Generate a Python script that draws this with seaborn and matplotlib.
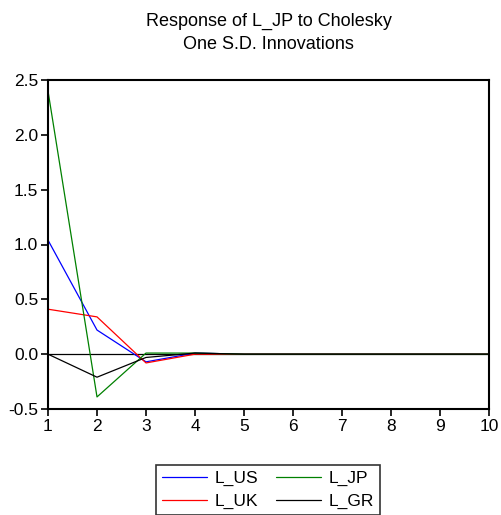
import pandas as pd
import numpy as np
import seaborn as sns
import matplotlib.pyplot as plt

# periods and responses of L_JP to each shock
periods = [1, 2, 3, 4, 5, 6, 7, 8, 9, 10]
l_us = [1.04, 0.22, -0.07, 0.01, 0.0, 0.0, 0.0, 0.0, 0.0, 0.0]
l_uk = [0.41, 0.34, -0.08, 0.0, 0.0, 0.0, 0.0, 0.0, 0.0, 0.0]
l_jp = [2.40, -0.39, 0.01, 0.01, 0.0, 0.0, 0.0, 0.0, 0.0, 0.0]
l_gr = [0.0, -0.21, -0.03, 0.01, 0.0, 0.0, 0.0, 0.0, 0.0, 0.0]

series_names = ["L_US", "L_UK", "L_JP", "L_GR"]
colors = {"L_US": "blue", "L_JP": "green", "L_UK": "red", "L_GR": "black"}

df = pd.DataFrame({"period": periods, "L_US": l_us, "L_UK": l_uk,
                   "L_JP": l_jp, "L_GR": l_gr})
df_long = df.melt(id_vars="period", var_name="shock", value_name="response")

sns.set_style("ticks")
plt.rcParams['font.family'] = ['Liberation Sans', 'DejaVu Sans']
plt.rcParams['text.color'] = 'black'

fig = plt.figure(figsize=(5.01, 5.15), dpi=100)
ax = fig.add_axes([48 / 501, 1 - 409 / 515, 441 / 501, 329 / 515])

ax.axhline(0, color="black", lw=0.9, zorder=1)
sns.lineplot(data=df_long, x="period", y="response", hue="shock",
             hue_order=series_names, palette=colors, lw=0.9, ax=ax,
             legend=False, zorder=2)

ax.set_xlim(1, 10)
ax.set_ylim(-0.5, 2.5)
ax.set_xticks(periods)
ax.set_yticks(np.arange(-0.5, 2.51, 0.5))
ax.set_yticklabels([f"{v:.1f}" for v in np.arange(-0.5, 2.51, 0.5)])
ax.set_xlabel("")
ax.set_ylabel("")
ax.tick_params(labelsize=12.5, length=5, width=1.2, direction="out", pad=2, colors="black")
for s in ax.spines.values():
    s.set_linewidth(1.5)
    s.set_color("black")

ax.set_title("Response of L_JP to Cholesky\nOne S.D. Innovations",
             fontsize=13, pad=22, linespacing=1.5, color="black")

# column-first fill gives rows L_US/L_JP and L_UK/L_GR
handles = [plt.Line2D([], [], color=colors[n], lw=0.9) for n in series_names]
leg = fig.legend(handles, series_names, ncol=2, loc="upper center",
                 bbox_to_anchor=(268 / 501, 1 - 456 / 515), frameon=True,
                 fancybox=False, edgecolor="black", fontsize=12.5,
                 handlelength=2.6, columnspacing=1.0, labelspacing=0.45,
                 handletextpad=0.45, borderpad=0.35)
leg.get_frame().set_linewidth(1.2)

fig.savefig("out.png", dpi=100)
